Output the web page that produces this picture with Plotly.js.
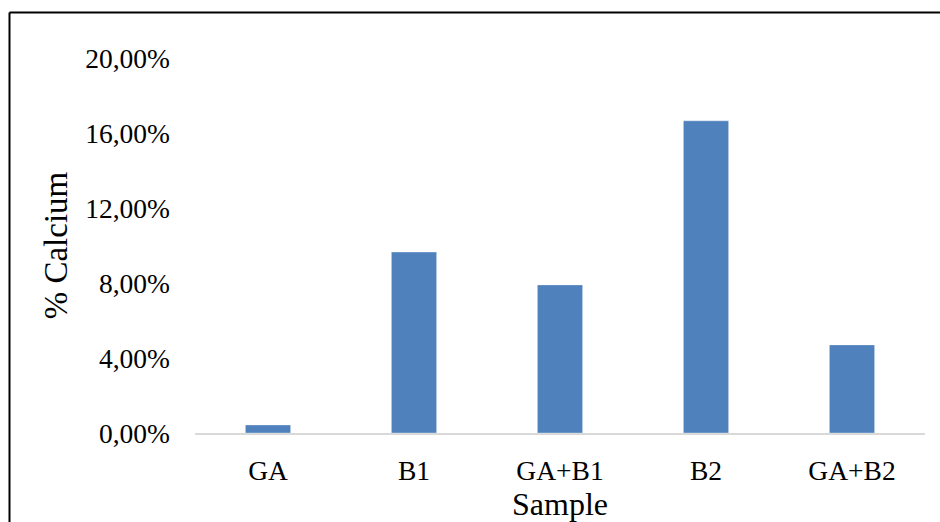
<!DOCTYPE html>
<html>
<head>
<meta charset="utf-8">
<script src="https://cdn.plot.ly/plotly-3.0.1.min.js"></script>
<style>
  html, body { margin: 0; padding: 0; background: #ffffff; }
  #chart { width: 940px; height: 522px; }
</style>
</head>
<body>
<div id="chart"></div>
<script>
// Calcium content per sample (fraction, shown as percent)
const samples = ["GA", "B1", "GA+B1", "B2", "GA+B2"];
const calcium = [0.0043, 0.0965, 0.0790, 0.1665, 0.0470];
const yTickValues = [0, 0.04, 0.08, 0.12, 0.16, 0.20];
const yTickLabels = ["0,00%", "4,00%", "8,00%", "12,00%", "16,00%", "20,00%"];

const serif = "'Liberation Serif', 'Times New Roman', serif";

// plot area: x 195..925 px, y 58..433 px
const L = 195, R = 15, T = 58, B = 89;
const plotW = 940 - L - R, plotH = 522 - T - B;
const px = v => (v - L) / plotW;
const py = v => (522 - B - v) / plotH;

const trace = {
  type: "bar",
  x: samples,
  y: calcium,
  marker: { color: "#4f81bd", line: { color: "rgba(255,255,255,0.35)", width: 1 } },
  hoverinfo: "x+y"
};

const layout = {
  width: 940,
  height: 522,
  margin: { l: L, r: R, t: T, b: B, pad: 0 },
  paper_bgcolor: "#ffffff",
  plot_bgcolor: "#ffffff",
  bargap: 0.69,
  showlegend: false,
  font: { family: serif, color: "#000000", size: 27.5 },
  xaxis: {
    type: "category",
    showgrid: false,
    zeroline: false,
    showline: true,
    linecolor: "#d9d9d9",
    linewidth: 2,
    ticks: "",
    ticklabelstandoff: 12,
    tickfont: { family: serif, size: 27.5, color: "#000000" },
    title: { text: "Sample", font: { family: serif, size: 32, color: "#000000" }, standoff: 4 },
    automargin: false
  },
  yaxis: {
    range: [0, 0.2],
    showgrid: false,
    zeroline: false,
    showline: false,
    ticks: "",
    tickvals: yTickValues,
    ticktext: yTickLabels,
    ticklabelstandoff: 24,
    tickfont: { family: serif, size: 27.5, color: "#000000" },
    title: { text: "% Calcium", font: { family: serif, size: 33, color: "#000000" }, standoff: 7 },
    automargin: false
  },
  shapes: [
    // chart frame: left and top edges
    { type: "line", xref: "paper", yref: "paper", x0: px(9.5), x1: px(9.5), y0: py(12.5), y1: py(540), line: { color: "#000000", width: 2 } },
    { type: "line", xref: "paper", yref: "paper", x0: px(9.5), x1: px(960), y0: py(12.5), y1: py(12.5), line: { color: "#000000", width: 2 } }
  ]
};

Plotly.newPlot("chart", [trace], layout, { displayModeBar: false, staticPlot: true });
</script>
</body>
</html>
